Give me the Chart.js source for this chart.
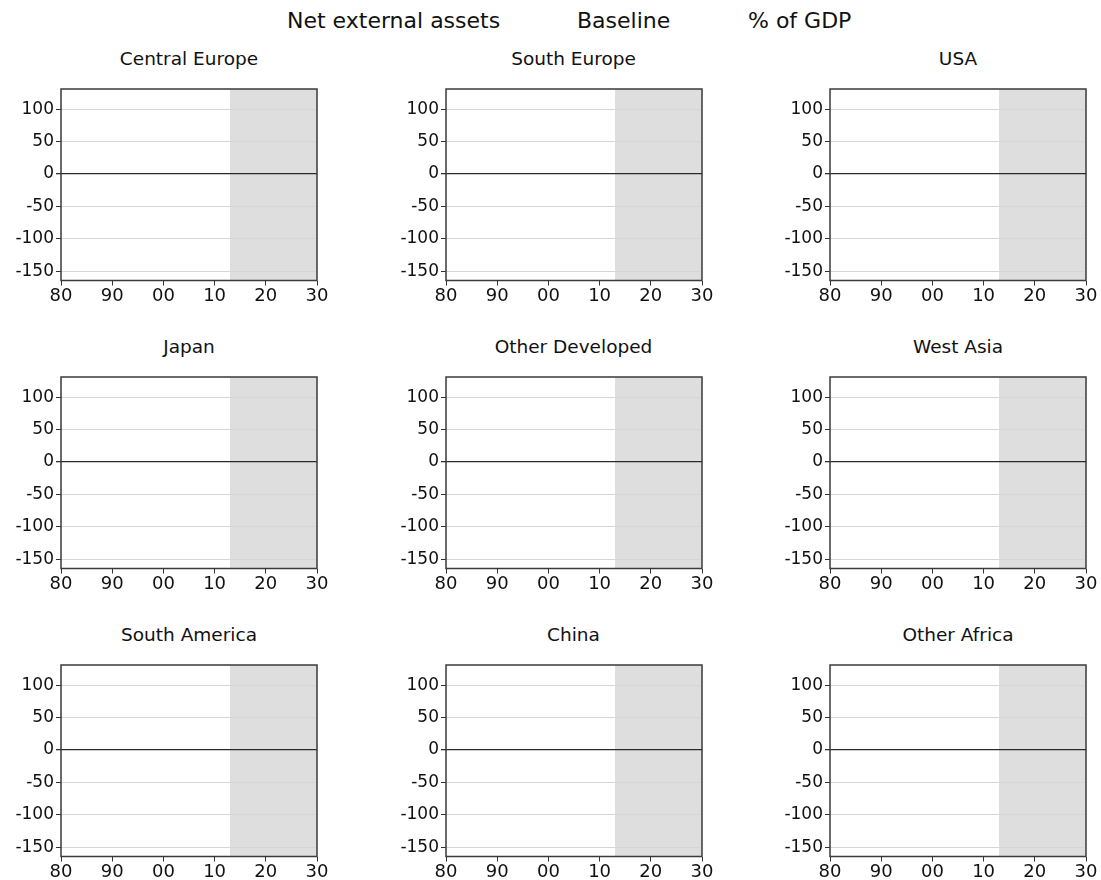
<!DOCTYPE html>
<html>
<head>
<meta charset="utf-8">
<script src="https://cdn.jsdelivr.net/npm/chart.js@4"></script>
<style>
  html, body { margin: 0; padding: 0; background: #fff; }
  #page { position: relative; width: 1101px; height: 880px; overflow: hidden; background: #fff; font-family: "DejaVu Sans", sans-serif; color: #111; }
  .head { position: absolute; font-size: 22px; line-height: 22px; white-space: nowrap; }
  .ptitle { position: absolute; font-size: 18.5px; line-height: 18px; text-align: center; white-space: nowrap; color: #111; }
  canvas { position: absolute; }
</style>
</head>
<body>
<div id="page"></div>
<script>
// Headline pieces across the top
const headParts = ["Net external assets", "Baseline", "% of GDP"];

// Regions, one small panel each (3 x 3)
const regions = [
  "Central Europe", "South Europe", "USA",
  "Japan", "Other Developed", "West Asia",
  "South America", "China", "Other Africa"
];

// Axes
const yearMin = 1980;
const yearMax = 2030;
const xTickYears = [1980, 1990, 2000, 2010, 2020, 2030];
const xTickLabels = ["80", "90", "00", "10", "20", "30"];
const yMin = -164;
const yMax = 131;
const yTickValues = [-150, -100, -50, 0, 50, 100];

// Projection period (shaded)
const forecastStart = 2013;
const forecastEnd = 2030;

// Layout of the grid of panels
const headLeft = [287, 577, 748];
const colLeft = [61, 445.5, 830];
const rowTop = [89, 377, 665];
const plotW = 256;
const plotH = 191.5;
const padL = 60, padR = 16, padT = 6, axisH = 30.5;

const page = document.getElementById('page');

headParts.forEach((t, i) => {
  const d = document.createElement('div');
  d.className = 'head';
  d.textContent = t;
  d.style.left = headLeft[i] + 'px';
  d.style.top = '9.5px';
  page.appendChild(d);
});

// Frame round the plot area
const framePlugin = {
  id: 'frame',
  afterDraw(chart) {
    const a = chart.chartArea, c = chart.ctx;
    c.save();
    c.strokeStyle = '#3a3a3a';
    c.lineWidth = 1.5;
    c.strokeRect(a.left, a.top, a.right - a.left, a.bottom - a.top);
    c.restore();
  }
};

regions.forEach((name, i) => {
  const r = Math.floor(i / 3), col = i % 3;
  const left = colLeft[col], top = rowTop[r];

  const t = document.createElement('div');
  t.className = 'ptitle';
  t.textContent = name;
  t.style.left = (left - 50) + 'px';
  t.style.width = (plotW + 100) + 'px';
  t.style.top = (top - 39.5) + 'px';
  page.appendChild(t);

  const cv = document.createElement('canvas');
  const W = padL + plotW + padR;
  const H = Math.round(padT + plotH + axisH);
  cv.width = W; cv.height = H;
  cv.style.width = W + 'px'; cv.style.height = H + 'px';
  cv.style.left = (left - padL) + 'px';
  cv.style.top = (top - padT) + 'px';
  page.appendChild(cv);

  new Chart(cv, {
    type: 'line',
    data: {
      datasets: [{
        label: 'Projection',
        data: [{ x: forecastStart, y: yMax }, { x: forecastEnd, y: yMax }],
        fill: 'start',
        backgroundColor: '#dedede',
        borderWidth: 0,
        pointRadius: 0
      }]
    },
    options: {
      responsive: false,
      animation: false,
      events: [],
      layout: { padding: { top: padT, right: padR, left: 0, bottom: 0 } },
      plugins: { legend: { display: false }, tooltip: { enabled: false }, title: { display: false } },
      scales: {
        x: {
          type: 'linear',
          min: yearMin,
          max: yearMax,
          afterFit: s => { s.height = H - padT - plotH; s.paddingLeft = 0; s.paddingRight = 0; },
          afterBuildTicks: s => { s.ticks = xTickYears.map(v => ({ value: v })); },
          border: { display: false },
          grid: { drawOnChartArea: false, drawTicks: true, tickLength: 5, color: '#333', lineWidth: 1 },
          ticks: {
            autoSkip: false,
            maxRotation: 0,
            padding: 0,
            color: '#111',
            font: { family: 'DejaVu Sans', size: 18 },
            callback: v => xTickLabels[xTickYears.indexOf(v)]
          }
        },
        y: {
          type: 'linear',
          min: yMin,
          max: yMax,
          afterFit: s => { s.width = padL; s.paddingTop = 0; s.paddingBottom = 0; },
          afterBuildTicks: s => { s.ticks = yTickValues.map(v => ({ value: v })); },
          border: { display: false },
          grid: {
            z: 1,
            drawTicks: true,
            tickLength: 5,
            tickColor: '#333',
            color: c => (c.tick && c.tick.value === 0) ? '#2a2a2a' : '#d6d6d6',
            lineWidth: c => (c.tick && c.tick.value === 0) ? 1.3 : 1
          },
          ticks: {
            padding: 2,
            color: '#111',
            font: { family: 'DejaVu Sans', size: 17 }
          }
        }
      }
    },
    plugins: [framePlugin]
  });
});
</script>
</body>
</html>
